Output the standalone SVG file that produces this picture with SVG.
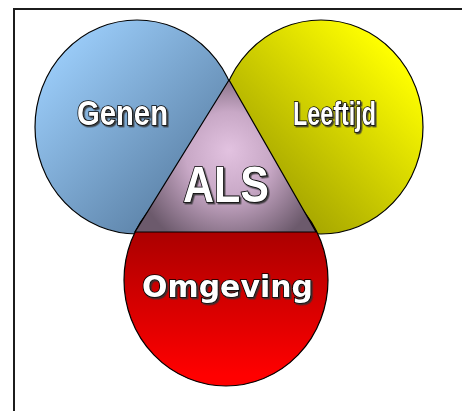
<svg xmlns="http://www.w3.org/2000/svg" width="462" height="411" viewBox="0 0 462 411">
<defs>
<linearGradient id="gBlue" x1="0" y1="0" x2="1" y2="1">
<stop offset="0.1" stop-color="#9dcffc"/>
<stop offset="0.9" stop-color="#52769a"/>
</linearGradient>
<linearGradient id="gYellow" x1="1" y1="0" x2="0" y2="1">
<stop offset="0.15" stop-color="#ffff00"/>
<stop offset="0.85" stop-color="#9a9a00"/>
</linearGradient>
<linearGradient id="gRed" x1="0" y1="0" x2="0" y2="1">
<stop offset="0.25" stop-color="#a80000"/>
<stop offset="0.95" stop-color="#ff0000"/>
</linearGradient>
<radialGradient id="gTri" gradientUnits="userSpaceOnUse" cx="229" cy="160" r="95" fx="229" fy="150">
<stop offset="0" stop-color="#e2c2e0"/>
<stop offset="0.45" stop-color="#c8a8c6"/>
<stop offset="1" stop-color="#6c5a6c"/>
</radialGradient>
<filter id="shadow" x="-10%" y="-20%" width="130%" height="150%">
<feDropShadow dx="1.5" dy="1.5" stdDeviation="0.4" flood-color="#333" flood-opacity="0.9"/>
</filter>
</defs>
<style>
.shape{stroke:#000;stroke-width:1.2}
.lbl{fill:#fff;stroke:#000;stroke-width:1.7;paint-order:stroke;text-anchor:middle;font-weight:bold;filter:url(#shadow)}
.frame{fill:#fff;stroke:#1c1c1c;stroke-width:2}
</style>
<rect class="frame" x="14" y="9" width="460" height="410"/>
<g id="genen">
<ellipse class="shape" cx="137" cy="127" rx="102" ry="107" fill="url(#gBlue)"/>
</g>
<g id="leeftijd">
<ellipse class="shape" cx="321" cy="127" rx="102" ry="107" fill="url(#gYellow)"/>
</g>
<g id="omgeving">
<ellipse class="shape" cx="226" cy="280" rx="102" ry="106" fill="url(#gRed)"/>
</g>
<g id="als">
<polygon class="shape" points="229,80 135,232 316,232" fill="url(#gTri)"/>
</g>
<g id="labels">
<text class="lbl" x="122.5" y="125" font-family="Liberation Sans, Arial, sans-serif" font-size="35" textLength="91" lengthAdjust="spacingAndGlyphs">Genen</text>
<text class="lbl" x="334.5" y="125" font-family="Liberation Sans, Arial, sans-serif" font-size="33" textLength="83" lengthAdjust="spacingAndGlyphs">Leeftijd</text>
<text class="lbl" x="226" y="202" font-family="Liberation Sans, Arial, sans-serif" font-size="50" textLength="86" lengthAdjust="spacingAndGlyphs">ALS</text>
<text class="lbl" x="227.5" y="297" font-family="DejaVu Sans, Verdana, sans-serif" font-size="30" textLength="171" lengthAdjust="spacingAndGlyphs">Omgeving</text>
</g>
</svg>
